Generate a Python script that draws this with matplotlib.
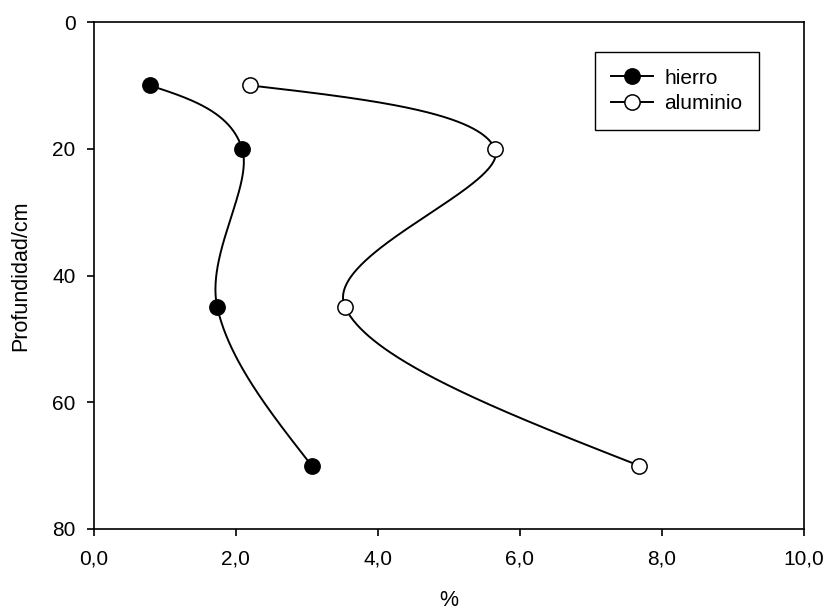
# Perfil de hierro y aluminio frente a la profundidad
import numpy as np
import matplotlib.pyplot as plt
from matplotlib.ticker import FuncFormatter

profundidad = [10, 20, 45, 70]
hierro = [0.79, 2.09, 1.74, 3.07]
aluminio = [2.20, 5.65, 3.54, 7.68]


def curva(ax, xs, ys, n=120):
  # smooth curve through the points (Catmull-Rom tangents, natural ends),
  # computed on screen so that it looks the same as in the original plot
  P = ax.transData.transform(np.column_stack([xs, ys]))
  k = len(P)
  m = np.zeros_like(P)
  m[1:-1] = (P[2:] - P[:-2]) / 2
  m[0] = (3 * (P[1] - P[0]) - m[1]) / 2
  m[-1] = (3 * (P[-1] - P[-2]) - m[-2]) / 2
  s = np.linspace(0, 1, n)[:, None]
  h00 = 2 * s ** 3 - 3 * s ** 2 + 1
  h10 = s ** 3 - 2 * s ** 2 + s
  h01 = -2 * s ** 3 + 3 * s ** 2
  h11 = s ** 3 - s ** 2
  pts = [h00 * P[i] + h10 * m[i] + h01 * P[i + 1] + h11 * m[i + 1] for i in range(k - 1)]
  dat = ax.transData.inverted().transform(np.vstack(pts))
  return dat[:, 0], dat[:, 1]


plt.rcParams['font.family'] = ['Liberation Sans', 'DejaVu Sans']

fig = plt.figure(figsize=(8.27, 6.10), dpi=100)
ax = fig.add_axes([0.1133, 0.1328, 0.8587, 0.8311])
ax.set_xlim(0, 10)
ax.set_ylim(80, 0)

for serie, face, nombre in [(hierro, 'black', 'hierro'), (aluminio, 'white', 'aluminio')]:
  xx, yy = curva(ax, serie, profundidad)
  ax.plot(xx, yy, color='black', lw=1.4, zorder=2)
  ax.plot(serie, profundidad, 'o', ms=11, mfc=face, mec='black', mew=1.1, zorder=3)
  ax.plot([], [], '-o', color='black', lw=1.4, ms=11, mfc=face, mec='black',
          mew=1.1, label=nombre)

ax.set_xticks([0, 2, 4, 6, 8, 10])
ax.set_yticks([0, 20, 40, 60, 80])
ax.xaxis.set_major_formatter(FuncFormatter(lambda v, p: f'{v:.1f}'.replace('.', ',')))
ax.tick_params(direction='out', length=5, width=1.2, labelsize=15)
ax.tick_params(axis='x', pad=10)
ax.tick_params(axis='y', pad=8)
for s in ax.spines.values():
  s.set_linewidth(1.2)

ax.set_xlabel('%', fontsize=15.5, labelpad=15)
ax.set_ylabel('Profundidad/cm', fontsize=15.5, labelpad=15)

leg = ax.legend(loc='upper right', bbox_to_anchor=(0.937, 0.941), fontsize=15,
                fancybox=False, edgecolor='black', framealpha=1,
                handlelength=2.0, handletextpad=0.55, borderpad=0.8,
                labelspacing=0.3, borderaxespad=0)
leg.get_frame().set_linewidth(1.0)

fig.savefig('out.png', dpi=100)
